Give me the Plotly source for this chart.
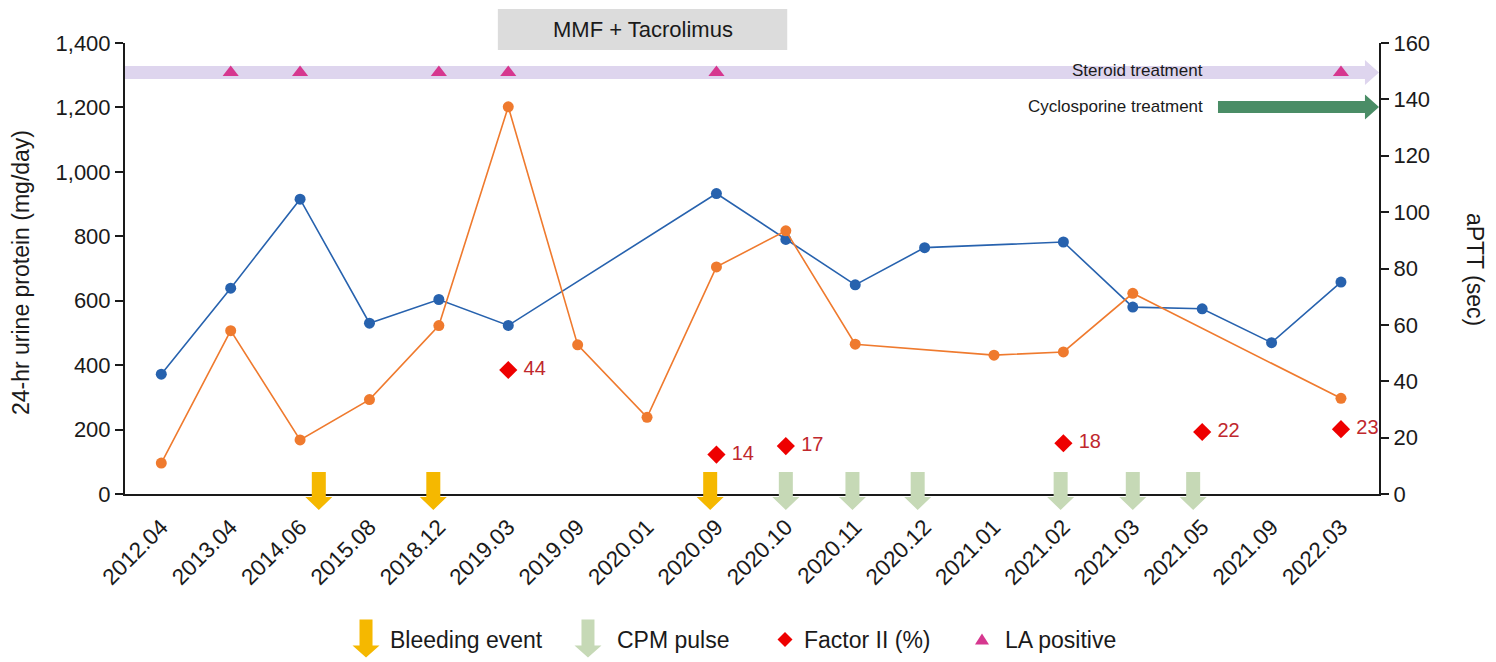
import plotly.graph_objects as go

# ---------------- data ----------------
dates = ["2012.04", "2013.04", "2014.06", "2015.08", "2018.12", "2019.03", "2019.09",
         "2020.01", "2020.09", "2020.10", "2020.11", "2020.12", "2021.01", "2021.02",
         "2021.03", "2021.05", "2021.09", "2022.03"]
aptt_sec = [42.5, 73.0, 104.6, 60.6, 69.0, 59.8, None, None, 106.6, 90.3, 74.2, 87.4,
            None, 89.4, 66.3, 65.7, 53.7, 75.2]
urine_protein = [96, 507, 168, 293, 523, 1202, 463, 238, 705, 817, 465, None, 431, 441,
                 623, None, None, 297]
factor2_dates = ["2019.03", "2020.09", "2020.10", "2021.02", "2021.05", "2022.03"]
factor2_vals = [44, 14, 17, 18, 22, 23]
la_dates = ["2013.04", "2014.06", "2018.12", "2019.03", "2020.09", "2022.03"]
bleeding_pos = [2.27, 3.92, 7.91]          # category-index positions
cpm_pos = [9.0, 9.96, 10.9, 12.96, 14.0, 14.87]
mmf_span = [4.85, 9.02]
y2_ticks = [0, 200, 400, 600, 800, 1000, 1200, 1400]
y_ticks = [0, 20, 40, 60, 80, 100, 120, 140, 160]

# ---------------- style ----------------
FONT = "Arial, Liberation Sans, sans-serif"
BLUE = "#2762ae"
ORANGE = "#ef7a2e"
YELLOW = "#f5b800"
GREEN_L = "#c6d9b6"
LAV = "#ded5ee"
DKGREEN = "#4a8d66"
PINK = "#d6378f"
RED = "#ee0000"
DKRED = "#c0282d"
AX = "#1a1a1a"
LA_LEVEL = 149.5
CYC_LEVEL = 137.3

fig = go.Figure()

fig.add_trace(go.Scatter(x=dates, y=aptt_sec, mode="lines+markers", connectgaps=True,
                         line=dict(color=BLUE, width=1.6), marker=dict(size=11, color=BLUE),
                         yaxis="y", showlegend=False))
fig.add_trace(go.Scatter(x=factor2_dates, y=factor2_vals, mode="markers+text",
                         text=["\u00a0" + str(v) for v in factor2_vals], textposition="middle right",
                         textfont=dict(family=FONT, size=20, color=DKRED),
                         marker=dict(symbol="diamond", size=14, color=RED),
                         cliponaxis=False, yaxis="y", showlegend=False))
fig.add_trace(go.Scatter(x=la_dates, y=[LA_LEVEL] * len(la_dates), mode="markers",
                         marker=dict(symbol="triangle-up", size=14, color=PINK),
                         cliponaxis=False, yaxis="y", showlegend=False))
fig.add_trace(go.Scatter(x=dates, y=urine_protein, mode="lines+markers", connectgaps=True,
                         line=dict(color=ORANGE, width=1.6), marker=dict(size=11, color=ORANGE),
                         yaxis="y2", showlegend=False))

shapes = []
annotations = []


def down_arrow(xref, xanchor, yanchor, color, top=22, neck=-3, tip=-16, bw=7, hw=13.5):
    return dict(type="path", xref=xref, yref="paper", xsizemode="pixel", ysizemode="pixel",
                xanchor=xanchor, yanchor=yanchor,
                path=f"M{-bw},{top} L{bw},{top} L{bw},{neck} L{hw},{neck} L0,{tip} "
                     f"L{-hw},{neck} L{-bw},{neck} Z",
                fillcolor=color, line=dict(width=0), layer="above")


for p in bleeding_pos:
    shapes.append(down_arrow("x", p, 0, YELLOW))
for p in cpm_pos:
    shapes.append(down_arrow("x", p, 0, GREEN_L))

# Steroid treatment arrow (full width)
hx = 0.9888
shapes.append(dict(type="path", xref="paper", yref="y", ysizemode="pixel", yanchor=LA_LEVEL,
                   path=f"M0,6.5 L{hx},6.5 L{hx},12.5 L1,0 L{hx},-12.5 L{hx},-6.5 L0,-6.5 Z",
                   fillcolor=LAV, line=dict(width=0), layer="below"))
# Cyclosporine arrow
cx0 = 0.8716
shapes.append(dict(type="path", xref="paper", yref="y", ysizemode="pixel", yanchor=CYC_LEVEL,
                   path=f"M{cx0},6 L{hx},6 L{hx},12.5 L1,0 L{hx},-12.5 L{hx},-6 L{cx0},-6 Z",
                   fillcolor=DKGREEN, line=dict(width=0), layer="below"))
# MMF + Tacrolimus box
shapes.append(dict(type="rect", xref="x", yref="paper", x0=mmf_span[0], x1=mmf_span[1],
                   y0=0.9845, y1=1.0753, fillcolor="#dcdcdc", line=dict(width=0), layer="below"))
annotations.append(dict(x=sum(mmf_span) / 2, y=1.03, xref="x", yref="paper", text="MMF + Tacrolimus",
                        showarrow=False, font=dict(family=FONT, size=22, color=AX),
                        xanchor="center", yanchor="middle"))
annotations.append(dict(x=0.8612, y=150.2, xref="paper", yref="y", text="Steroid treatment",
                        showarrow=False, font=dict(family=FONT, size=17, color=AX),
                        xanchor="right", yanchor="middle"))
annotations.append(dict(x=0.8612, y=137.4, xref="paper", yref="y", text="Cyclosporine treatment",
                        showarrow=False, font=dict(family=FONT, size=17, color=AX),
                        xanchor="right", yanchor="middle"))

# axis titles
annotations.append(dict(x=-0.0829, y=0.49, xref="paper", yref="paper",
                        text="24-hr urine protein (mg/day)", textangle=-90, showarrow=False,
                        font=dict(family=FONT, size=23, color=AX), xanchor="center", yanchor="middle"))
annotations.append(dict(x=1.0766, y=0.499, xref="paper", yref="paper",
                        text="aPTT (sec)", textangle=90, showarrow=False,
                        font=dict(family=FONT, size=23, color=AX), xanchor="center", yanchor="middle"))

# ---------------- custom legend ----------------
LEG_Y = -0.3228
shapes.append(down_arrow("paper", 0.1922, LEG_Y, YELLOW, top=20, neck=-6, tip=-18, bw=6.5, hw=13.5))
shapes.append(down_arrow("paper", 0.3692, LEG_Y, GREEN_L, top=20, neck=-6, tip=-18, bw=6.5, hw=13.5))
shapes.append(dict(type="path", xref="paper", yref="paper", xsizemode="pixel", ysizemode="pixel",
                   xanchor=0.5263, yanchor=LEG_Y, path="M0,7.5 L7.5,0 L0,-7.5 L-7.5,0 Z",
                   fillcolor=RED, line=dict(width=0)))
shapes.append(dict(type="path", xref="paper", yref="paper", xsizemode="pixel", ysizemode="pixel",
                   xanchor=0.6834, yanchor=LEG_Y, path="M0,6 L7,-5 L-7,-5 Z",
                   fillcolor=PINK, line=dict(width=0)))
for xp, txt in [(0.2101, "Bleeding event"), (0.3911, "CPM pulse"),
                (0.5396, "Factor II (%)"), (0.7002, "LA positive")]:
    annotations.append(dict(x=xp, y=LEG_Y, xref="paper", yref="paper", text=txt, showarrow=False,
                            font=dict(family=FONT, size=23, color=AX), xanchor="left",
                            yanchor="middle"))

fig.update_layout(
    width=1496, height=662,
    margin=dict(l=125, r=117, t=43, b=168),
    paper_bgcolor="white", plot_bgcolor="white",
    font=dict(family=FONT, color=AX),
    showlegend=False,
    xaxis=dict(type="category", categoryorder="array", categoryarray=dates,
               range=[-0.523, 17.548], showline=True, linecolor=AX, linewidth=2,
               ticks="", tickangle=-45, tickfont=dict(size=22.5, color=AX),
               ticklabelstandoff=9, showgrid=False, zeroline=False),
    yaxis=dict(side="right", range=[0, 160], tickvals=y_ticks, showline=True, linecolor=AX,
               linewidth=2, ticks="outside", ticklen=8, tickwidth=2, tickcolor=AX,
               tickfont=dict(size=22, color=AX), showgrid=False, zeroline=False),
    yaxis2=dict(side="left", overlaying="y", range=[0, 1400], tickvals=y2_ticks,
                tickformat=",", showline=True, linecolor=AX, linewidth=2, ticks="outside",
                ticklen=8, tickwidth=2, tickcolor=AX, tickfont=dict(size=22, color=AX),
                showgrid=False, zeroline=False),
    shapes=shapes,
    annotations=annotations,
)

fig.write_html("out.html", config={"displayModeBar": False},
               post_script="document.body.style.margin='0';")
